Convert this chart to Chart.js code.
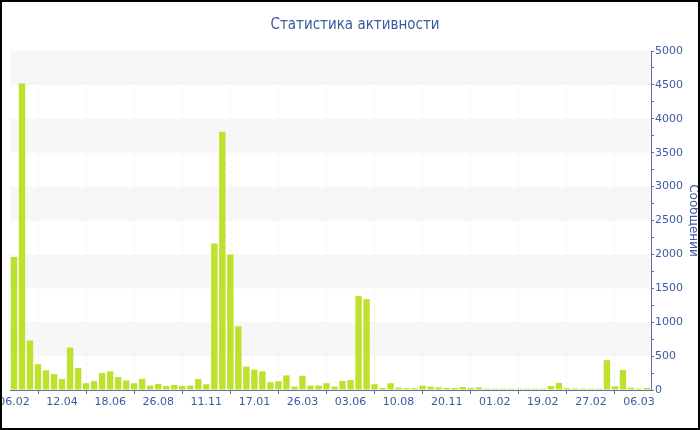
<!DOCTYPE html>
<html>
<head>
<meta charset="utf-8">
<script src="https://cdn.jsdelivr.net/npm/chart.js@4/dist/chart.umd.min.js"></script>
<style>
  body { margin: 0; background: #fff; }
  #wrap { position: relative; width: 700px; height: 430px; overflow: hidden; }
  #frame { position: absolute; left: 0; top: 0; width: 700px; height: 430px; box-sizing: border-box; border: 2px solid #000; pointer-events: none; }
</style>
</head>
<body>
<div id="wrap">
  <canvas id="activity_chart" width="700" height="430"></canvas>
  <div id="frame"></div>
</div>
<script>
// tick labels shown under every 6th bar
const dateLabels = ['06.02', '12.04', '18.06', '26.08', '11.11', '17.01', '26.03',
                    '03.06', '10.08', '20.11', '01.02', '19.02', '27.02', '06.03'];
const labelEvery = 6;

// messages per period
const messages = [
    1960, 4520, 730, 380, 290, 235, 160, 625, 325, 100,
    130, 250, 275, 190, 140, 100, 165, 65, 90, 60,
    75, 60, 65, 160, 85, 2160, 3810, 2000, 940, 345,
    300, 275, 115, 130, 215, 50, 210, 65, 65, 100,
    50, 133, 147, 1385, 1340, 85, 30, 100, 35, 25,
    25, 65, 50, 40, 30, 30, 44, 30, 40, 20,
    20, 20, 20, 20, 20, 20, 20, 59, 105, 25,
    22, 20, 20, 20, 440, 55, 295, 34, 20, 30
];

const categories = messages.map((v, i) => i % labelEvery === 0 ? dateLabels[i / labelEvery] : '');

const textColor = '#3d5a9e';
const axisColor = '#5b70ad';

// alternating grey bands behind the bars
const bands = {
    id: 'bands',
    beforeDraw(chart) {
        const { ctx, chartArea, scales: { y } } = chart;
        ctx.save();
        ctx.fillStyle = '#f7f7f7';
        for (let v = 500; v < 5000; v += 1000) {
            const top = y.getPixelForValue(v + 500);
            const bottom = y.getPixelForValue(v);
            ctx.fillRect(chartArea.left, top, chartArea.right - chartArea.left, bottom - top);
        }
        ctx.restore();
    }
};

const chart_data = {
    labels: categories,
    datasets: [{
        label: 'Сообщений',
        data: messages,
        backgroundColor: '#bde22e',
        barPercentage: 0.8,
        categoryPercentage: 1
    }]
};

const config = {
    type: 'bar',
    data: chart_data,
    plugins: [bands],
    options: {
        responsive: false,
        animation: false,
        devicePixelRatio: 1,
        layout: { padding: { left: 10, right: 0, top: 0, bottom: 0 } },
        plugins: {
            legend: { display: false },
            title: {
                display: true,
                text: 'Статистика активности',
                color: textColor,
                font: { family: '"Liberation Sans Narrow", "DejaVu Sans Condensed", sans-serif', size: 15, weight: 'normal' },
                padding: { top: 16, bottom: 17 }
            }
        },
        scales: {
            x: {
                offset: true,
                grid: {
                    color: '#efefef',
                    tickColor: axisColor,
                    tickLength: 4
                },
                border: { color: axisColor, dash: [3, 3] },
                ticks: {
                    color: textColor,
                    font: { family: '"DejaVu Sans", sans-serif', size: 11 },
                    autoSkip: false,
                    maxRotation: 0,
                    padding: 2,
                    callback: (val, i) => categories[i] || null
                },
                afterFit: s => { s.paddingLeft = 0; s.paddingRight = 0; s.height = 40; }
            },
            y: {
                position: 'right',
                min: 0,
                max: 5000,
                grid: {
                    drawOnChartArea: false,
                    tickColor: axisColor,
                    tickLength: 3
                },
                border: { color: axisColor },
                ticks: {
                    stepSize: 250,
                    color: textColor,
                    font: { family: '"DejaVu Sans", sans-serif', size: 11 },
                    padding: 1,
                    callback: v => v % 500 === 0 ? v : ''
                },
                title: {
                    display: true,
                    text: 'Сообщений',
                    color: textColor,
                    font: { family: '"DejaVu Sans", sans-serif', size: 12 },
                    padding: { top: 0, bottom: -6 }
                },
                afterFit: s => { s.paddingTop = 0; s.paddingBottom = 0; s.width = 49; }
            }
        }
    }
};

const chart = new Chart(document.getElementById('activity_chart'), config);
</script>
</body>
</html>
